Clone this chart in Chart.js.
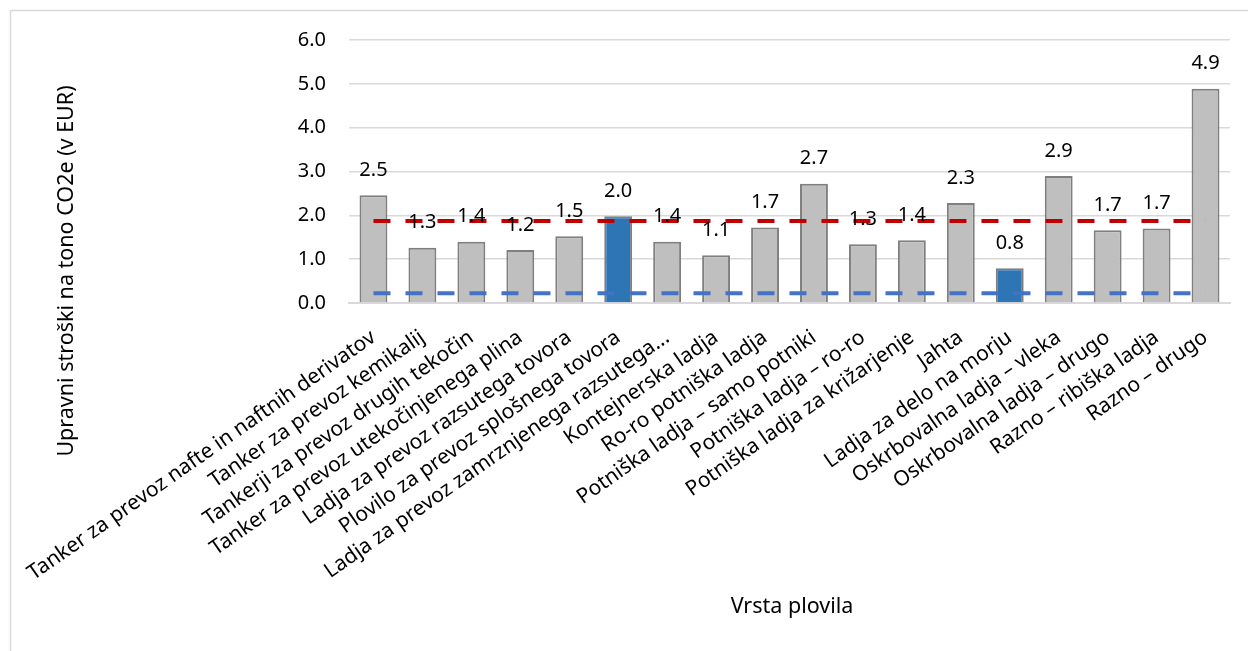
<!DOCTYPE html>
<html>
<head>
<meta charset="utf-8">
<script src="https://cdn.jsdelivr.net/npm/chart.js@4/dist/chart.umd.min.js"></script>
<style>
  html, body { margin: 0; padding: 0; background: #fff; }
  #wrap { width: 1248px; height: 651px; position: relative; }
</style>
</head>
<body>
<div id="wrap"><canvas id="chart" width="1248" height="651"></canvas></div>
<script>
// Vessel types (x axis)
const categories = [
    'Tanker za prevoz nafte in naftnih derivatov',
    'Tanker za prevoz kemikalij',
    'Tankerji za prevoz drugih tekočin',
    'Tanker za prevoz utekočinjenega plina',
    'Ladja za prevoz razsutega tovora',
    'Plovilo za prevoz splošnega tovora',
    'Ladja za prevoz zamrznjenega razsutega...',
    'Kontejnerska ladja',
    'Ro-ro potniška ladja',
    'Potniška ladja – samo potniki',
    'Potniška ladja – ro-ro',
    'Potniška ladja za križarjenje',
    'Jahta',
    'Ladja za delo na morju',
    'Oskrbovalna ladja – vleka',
    'Oskrbovalna ladja – drugo',
    'Razno – ribiška ladja',
    'Razno – drugo'
];

// Administrative cost per tonne CO2e (EUR)
const costs = [2.46, 1.26, 1.40, 1.21, 1.52, 1.98, 1.40, 1.09, 1.72, 2.72, 1.34, 1.43, 2.28, 0.79, 2.90, 1.66, 1.70, 4.89];

// Categories drawn in blue
const highlighted = ['Plovilo za prevoz splošnega tovora', 'Ladja za delo na morju'];

// Reference levels (dashed lines)
const redLevel = 1.87;
const blueLevel = 0.22;

// Y axis ticks
const yTicks = [0, 1, 2, 3, 4, 5, 6];

const FONT = 'Noto Sans';

// Frame, axis titles and value labels
const extras = {
    id: 'extras',
    beforeDraw(chart) {
        const ctx = chart.ctx;
        ctx.save();
        ctx.strokeStyle = '#d9d9d9';
        ctx.lineWidth = 1.5;
        ctx.beginPath();
        ctx.moveTo(10.5, 651);
        ctx.lineTo(10.5, 10.5);
        ctx.lineTo(1248, 10.5);
        ctx.stroke();
        ctx.restore();
    },
    afterDatasetsDraw(chart) {
        const ctx = chart.ctx;
        const meta = chart.getDatasetMeta(2);
        ctx.save();
        ctx.fillStyle = '#000';
        ctx.font = '20px "' + FONT + '"';
        ctx.textAlign = 'center';
        ctx.textBaseline = 'middle';
        meta.data.forEach((bar, i) => {
            ctx.fillText(costs[i].toFixed(1), bar.x, bar.y - 25);
        });

        ctx.font = '21.5px "' + FONT + '"';
        // y title
        ctx.save();
        ctx.translate(67, 271);
        ctx.rotate(-Math.PI / 2);
        ctx.fillText('Upravni stroški na tono CO2e (v EUR)', 0, 0);
        ctx.restore();

        // x title
        ctx.fillText('Vrsta plovila', 792, 607);
        ctx.restore();
    }
};

new Chart(document.getElementById('chart'), {
    data: {
        labels: categories,
        datasets: [
            {
                type: 'line',
                label: 'Povprečje',
                data: categories.map(() => redLevel),
                borderColor: '#c00000',
                borderWidth: 4,
                borderDash: [17, 15],
                pointRadius: 0,
                fill: false,
                order: 1
            },
            {
                type: 'line',
                label: 'Spodnja meja',
                data: categories.map(() => blueLevel),
                borderColor: '#4472c4',
                borderWidth: 4,
                borderDash: [17, 15],
                pointRadius: 0,
                fill: false,
                order: 2
            },
            {
                type: 'bar',
                label: 'Upravni stroški',
                data: costs,
                backgroundColor: categories.map(c => highlighted.includes(c) ? '#2e75b6' : '#bfbfbf'),
                borderColor: '#7f7f7f',
                borderWidth: 2,
                barPercentage: 0.57,
                categoryPercentage: 1,
                order: 3
            }
        ]
    },
    options: {
        responsive: false,
        animation: false,
        layout: { padding: { left: 0, top: 40, right: 18, bottom: 0 } },
        plugins: {
            legend: { display: false },
            tooltip: { enabled: false }
        },
        scales: {
            x: {
                offset: true,
                grid: { display: false, drawTicks: false },
                border: { display: true, color: '#d9d9d9', width: 2 },
                ticks: {
                    autoSkip: false,
                    maxRotation: 35,
                    minRotation: 35,
                    padding: 22,
                    color: '#000',
                    font: { family: FONT, size: 21 }
                },
                afterFit(scale) {
                    scale.height = 348;
                    scale.paddingLeft = 0;
                    scale.paddingRight = 0;
                }
            },
            y: {
                min: 0,
                max: 6,
                afterBuildTicks(scale) {
                    scale.ticks = yTicks.map(v => ({ value: v }));
                },
                grid: { color: '#d9d9d9', lineWidth: 1.5, drawTicks: false },
                border: { display: false },
                ticks: {
                    padding: 23,
                    color: '#000',
                    font: { family: FONT, size: 20 },
                    callback: v => v.toFixed(1)
                },
                afterFit(scale) {
                    scale.width = 349;
                }
            }
        }
    },
    plugins: [extras]
});
</script>
</body>
</html>
